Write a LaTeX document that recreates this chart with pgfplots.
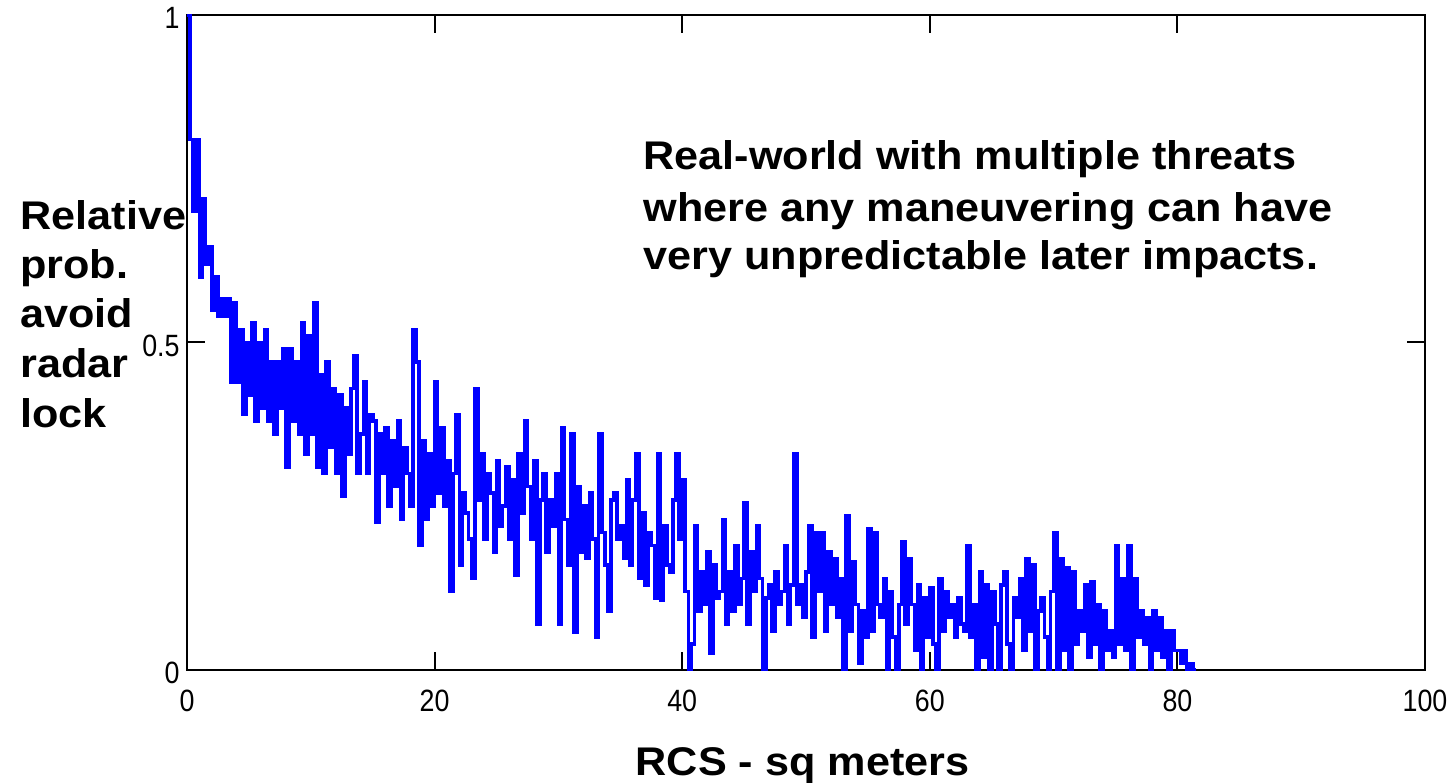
\documentclass[border=0pt]{standalone}
\usepackage{fontspec}
\setmainfont{Liberation Sans}
\newfontfamily\labfont[FakeStretch=1.08]{Liberation Sans}
\newfontfamily\tickfont[FakeStretch=0.87]{Liberation Sans}
\usepackage{pgfplots}
\pgfplotsset{compat=1.18}
\begin{document}
\begin{tikzpicture}
\begin{axis}[
  scale only axis, width=619pt, height=327.5pt,
  xmin=0, xmax=100, ymin=0, ymax=1,
  xtick={0,20,40,60,80,100}, xticklabels={0,20,40,60,80,100},
  ytick={0,0.5,1}, yticklabels={0,0.5,1},
  /pgf/number format/assume math mode=true,
  tick align=inside, major tick length=9pt,
  axis line style={black, line width=1pt},
  every tick/.style={black, line width=1pt},
  xticklabel style={font=\tickfont\fontsize{15.4}{16}\selectfont, inner sep=0pt, anchor=north, yshift=-10pt},
  yticklabel style={font=\tickfont\fontsize{15.4}{16}\selectfont, inner sep=0pt, anchor=east, xshift=-3.5pt, yshift=-1.5pt},
  clip=true,
]
\addplot[const plot, color={rgb,255:red,0;green,0;blue,255}, line width=1.8pt] coordinates {
(0,1.00)(0.25,0.81)(0.5,0.70)(0.75,0.81)
(1,0.60)(1.25,0.72)(1.5,0.62)(1.75,0.646)
(2,0.55)(2.25,0.60)(2.5,0.54)(2.75,0.567)
(3,0.54)(3.25,0.567)(3.5,0.44)(3.75,0.56)
(4,0.44)(4.25,0.52)(4.5,0.39)(4.75,0.50)
(5,0.42)(5.25,0.53)(5.5,0.38)(5.75,0.50)
(6,0.40)(6.25,0.52)(6.5,0.38)(6.75,0.47)
(7,0.36)(7.25,0.47)(7.5,0.40)(7.75,0.49)
(8,0.31)(8.25,0.49)(8.5,0.38)(8.75,0.47)
(9,0.36)(9.25,0.53)(9.5,0.33)(9.75,0.51)
(10,0.36)(10.25,0.56)(10.5,0.31)(10.75,0.45)
(11,0.30)(11.25,0.47)(11.5,0.34)(11.75,0.43)
(12,0.30)(12.25,0.42)(12.5,0.265)(12.75,0.40)
(13,0.33)(13.25,0.43)(13.5,0.48)(13.75,0.30)
(14,0.36)(14.25,0.44)(14.5,0.30)(14.75,0.39)
(15,0.38)(15.25,0.225)(15.5,0.36)(15.75,0.30)
(16,0.37)(16.25,0.25)(16.5,0.35)(16.75,0.28)
(17,0.38)(17.25,0.23)(17.5,0.34)(17.75,0.30)
(18,0.25)(18.25,0.52)(18.5,0.47)(18.75,0.19)
(19,0.35)(19.25,0.23)(19.5,0.33)(19.75,0.25)
(20,0.44)(20.25,0.27)(20.5,0.37)(20.75,0.25)
(21,0.32)(21.25,0.12)(21.5,0.30)(21.75,0.39)
(22,0.16)(22.25,0.27)(22.5,0.24)(22.75,0.20)
(23,0.14)(23.25,0.43)(23.5,0.26)(23.75,0.33)
(24,0.20)(24.25,0.30)(24.5,0.27)(24.75,0.18)
(25,0.32)(25.25,0.22)(25.5,0.25)(25.75,0.31)
(26,0.20)(26.25,0.29)(26.5,0.145)(26.75,0.33)
(27,0.24)(27.25,0.38)(27.5,0.28)(27.75,0.20)
(28,0.32)(28.25,0.07)(28.5,0.26)(28.75,0.30)
(29,0.18)(29.25,0.26)(29.5,0.22)(29.75,0.30)
(30,0.07)(30.25,0.37)(30.5,0.23)(30.75,0.16)
(31,0.36)(31.25,0.057)(31.5,0.28)(31.75,0.18)
(32,0.25)(32.25,0.17)(32.5,0.27)(32.75,0.20)
(33,0.05)(33.25,0.36)(33.5,0.21)(33.75,0.16)
(34,0.09)(34.25,0.26)(34.5,0.27)(34.75,0.20)
(35,0.22)(35.25,0.17)(35.5,0.29)(35.75,0.16)
(36,0.26)(36.25,0.33)(36.5,0.14)(36.75,0.24)
(37,0.13)(37.25,0.21)(37.5,0.19)(37.75,0.11)
(38,0.33)(38.25,0.107)(38.5,0.22)(38.75,0.16)
(39,0.15)(39.25,0.26)(39.5,0.33)(39.75,0.20)
(40,0.29)(40.25,0.12)(40.5,0.00)(40.75,0.04)
(41,0.22)(41.25,0.09)(41.5,0.15)(41.75,0.10)
(42,0.18)(42.25,0.026)(42.5,0.16)(42.75,0.11)
(43,0.12)(43.25,0.23)(43.5,0.07)(43.75,0.15)
(44,0.09)(44.25,0.19)(44.5,0.10)(44.75,0.14)
(45,0.255)(45.25,0.07)(45.5,0.18)(45.75,0.12)
(46,0.22)(46.25,0.14)(46.5,0.00)(46.75,0.11)
(47,0.13)(47.25,0.06)(47.5,0.15)(47.75,0.10)
(48,0.12)(48.25,0.19)(48.5,0.07)(48.75,0.13)
(49,0.33)(49.25,0.10)(49.5,0.13)(49.75,0.08)
(50,0.15)(50.25,0.22)(50.5,0.05)(50.75,0.21)
(51,0.12)(51.25,0.21)(51.5,0.06)(51.75,0.18)
(52,0.10)(52.25,0.17)(52.5,0.08)(52.75,0.14)
(53,0.00)(53.25,0.235)(53.5,0.06)(53.75,0.165)
(54,0.10)(54.25,0.01)(54.5,0.09)(54.75,0.05)
(55,0.215)(55.25,0.06)(55.5,0.21)(55.75,0.10)
(56,0.08)(56.25,0.14)(56.5,0.00)(56.75,0.12)
(57,0.05)(57.25,0.00)(57.5,0.10)(57.75,0.196)
(58,0.07)(58.25,0.17)(58.5,0.10)(58.75,0.03)
(59,0.13)(59.25,0.00)(59.5,0.11)(59.75,0.05)
(60,0.125)(60.25,0.04)(60.5,0.00)(60.75,0.14)
(61,0.06)(61.25,0.12)(61.5,0.08)(61.75,0.10)
(62,0.05)(62.25,0.11)(62.5,0.07)(62.75,0.06)
(63,0.19)(63.25,0.05)(63.5,0.10)(63.75,0.00)
(64,0.15)(64.25,0.02)(64.5,0.13)(64.75,0.00)
(65,0.12)(65.25,0.07)(65.5,0.00)(65.75,0.13)
(66,0.15)(66.25,0.04)(66.5,0.00)(66.75,0.11)
(67,0.08)(67.25,0.14)(67.5,0.03)(67.75,0.17)
(68,0.06)(68.25,0.16)(68.5,0.00)(68.75,0.09)
(69,0.11)(69.25,0.05)(69.5,0.00)(69.75,0.12)
(70,0.21)(70.25,0.00)(70.5,0.17)(70.75,0.03)
(71,0.156)(71.25,0.00)(71.5,0.15)(71.75,0.04)
(72,0.09)(72.25,0.06)(72.5,0.13)(72.75,0.02)
(73,0.135)(73.25,0.04)(73.5,0.10)(73.75,0.00)
(74,0.09)(74.25,0.03)(74.5,0.06)(74.75,0.02)
(75,0.19)(75.25,0.04)(75.5,0.14)(75.75,0.03)
(76,0.19)(76.25,0.00)(76.5,0.14)(76.75,0.05)
(77,0.09)(77.25,0.04)(77.5,0.08)(77.75,0.00)
(78,0.09)(78.25,0.03)(78.5,0.08)(78.75,0.02)
(79,0.06)(79.25,0.00)(79.5,0.06)(79.75,0.03)
(80,0.03)(80.25,0.01)(80.5,0.03)(80.75,0.00)
(81,0.01)(81.25,0.00)(81.5,0.00)
};
\end{axis}
\begin{scope}[every node/.style={inner sep=0pt, anchor=base west, font=\labfont\bfseries\fontsize{20}{25}\selectfont}]
\node at (-83.5pt,220pt) {Relative};
\node at (-83.5pt,195.5pt) {prob.};
\node at (-83.5pt,171pt) {avoid};
\node at (-83.5pt,146pt) {radar};
\node at (-83.5pt,121pt) {lock};
\node at (228pt,250pt) {Real-world with multiple threats};
\node at (228pt,224pt) {where any maneuvering can have};
\node at (228pt,200pt) {very unpredictable later impacts.};
\node[anchor=base] at (307.75pt,-52.5pt) {RCS - sq meters};
\end{scope}
\pgfresetboundingbox
\path[use as bounding box] (-93.5pt,-56pt) rectangle (634.5pt,335pt);
\end{tikzpicture}
\end{document}
